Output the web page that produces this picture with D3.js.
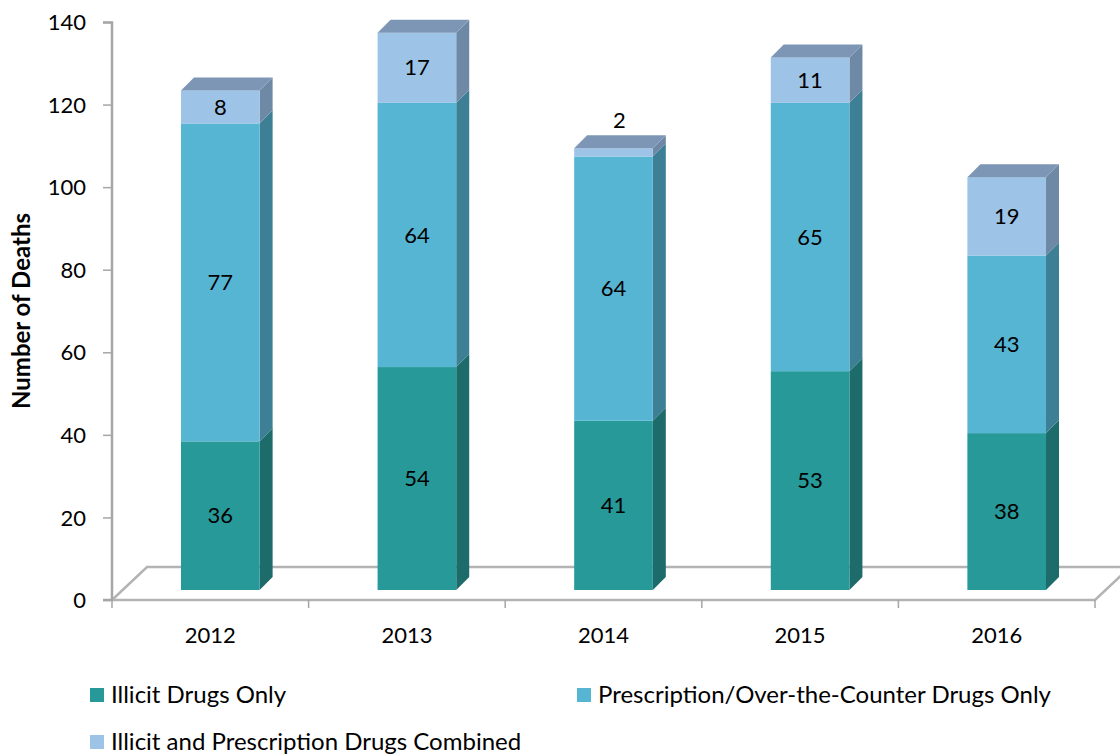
<!DOCTYPE html>
<html>
<head>
<meta charset="utf-8">
<script src="https://cdn.jsdelivr.net/npm/d3@7"></script>
<style>
  body { margin: 0; background: #fff; }
  svg text { font-family: Lato, "Open Sans", sans-serif; fill: #000; }
</style>
</head>
<body>
<div id="chart"></div>
<script>

const years = ['2012', '2013', '2014', '2015', '2016'];
const illicit = [36, 54, 41, 53, 38];
const prescription = [77, 64, 64, 65, 43];
const combined = [8, 17, 2, 11, 19];
const seriesNames = ['Illicit Drugs Only', 'Prescription/Over-the-Counter Drugs Only', 'Illicit and Prescription Drugs Combined'];
const yTicks = [0, 20, 40, 60, 80, 100, 120, 140];

const W = 1120, H = 756;
const depth = 13;

// front, side, top colours for each series
const colors = [
  { front: '#279999', side: '#1d6b6b', top: '#2b8585' },
  { front: '#57b5d4', side: '#3d7f95', top: '#4b9bb6' },
  { front: '#9dc3e6', side: '#6e89a6', top: '#7d96b6' }
];

const svg = d3.select('#chart').append('svg')
  .attr('width', W)
  .attr('height', H);

const x = d3.scaleBand().domain(years).range([112, 1095]);
const y = d3.scaleLinear().domain([0, 140]).range([600, 22]);
// bars sit on the floor a bit in front of the axis plane
const yBar = d3.scaleLinear().domain([0, 140]).range([590, 12]);

// floor
const floor = svg.append('g').attr('fill', 'none').attr('stroke', '#b3b3b3').attr('stroke-width', 2.5);
floor.append('path').attr('d', 'M112,600 L147,567 L1130,567');
floor.append('path').attr('d', 'M112,600 L1095,600 L1130,567');

// y axis
const yAxis = svg.append('g')
  .attr('transform', 'translate(112,0)')
  .call(d3.axisLeft(y).tickValues(yTicks).tickSize(9).tickPadding(17));
yAxis.select('.domain').attr('stroke', '#a6a6a6').attr('stroke-width', 2.5).attr('d', 'M-9,22.5H0V600H-9');
yAxis.selectAll('.tick line').attr('stroke', '#a6a6a6').attr('stroke-width', 1.5);
yAxis.selectAll('.tick text').style('font-size', '22px').attr('dy', '0.35em');

// x ticks under the floor edge
svg.append('g').selectAll('line')
  .data(years.concat(['end']))
  .join('line')
  .attr('x1', (d, i) => 112 + i * x.bandwidth())
  .attr('x2', (d, i) => 112 + i * x.bandwidth())
  .attr('y1', 600).attr('y2', 608)
  .attr('stroke', '#a6a6a6').attr('stroke-width', 1.5);

svg.append('g').selectAll('text')
  .data(years)
  .join('text')
  .attr('x', d => x(d) + x.bandwidth() / 2)
  .attr('y', 635)
  .attr('text-anchor', 'middle')
  .attr('dy', '0.35em')
  .style('font-size', '22px')
  .text(d => d);

// axis title
svg.append('text')
  .attr('transform', 'translate(22,311) rotate(-90)')
  .attr('text-anchor', 'middle')
  .attr('dy', '0.35em')
  .style('font-size', '24px')
  .style('font-weight', 'bold')
  .text('Number of Deaths');

// stacked data
const stackData = years.map((yr, i) => ({ year: yr, s0: illicit[i], s1: prescription[i], s2: combined[i] }));
const stacked = d3.stack().keys(['s0', 's1', 's2'])(stackData);

const barW = x.bandwidth() * 0.4;
const barX = d => x(d.data.year) + x.bandwidth() / 2 - barW / 2 + 10;

const bars = svg.append('g');

years.forEach((yr, i) => {
  const g = bars.append('g');
  stacked.forEach((layer, k) => {
    const d = layer[i];
    const x0 = barX(d), x1 = x0 + barW;
    const yb = yBar(d[0]), yt = yBar(d[1]);
    g.append('path')
      .attr('d', `M${x1},${yb} L${x1 + depth},${yb - depth} L${x1 + depth},${yt - depth} L${x1},${yt} Z`)
      .attr('fill', colors[k].side);
    g.append('rect')
      .attr('x', x0).attr('y', yt)
      .attr('width', barW).attr('height', yb - yt)
      .attr('fill', colors[k].front);
    if (k === stacked.length - 1) {
      g.append('path')
        .attr('d', `M${x0},${yt} L${x0 + depth},${yt - depth} L${x1 + depth},${yt - depth} L${x1},${yt} Z`)
        .attr('fill', colors[k].top);
    }
  });
});

// value labels
stacked.forEach((layer, k) => {
  layer.forEach(d => {
    const x0 = barX(d);
    const yb = yBar(d[0]), yt = yBar(d[1]);
    const small = (yb - yt) < 20;
    svg.append('text')
      .attr('x', x0 + barW / 2 + (small ? 6 : 0))
      .attr('y', small ? yt - depth - 15 : (yb + yt) / 2)
      .attr('text-anchor', 'middle')
      .attr('dy', '0.35em')
      .style('font-size', '22px')
      .text(d[1] - d[0]);
  });
});

// legend
const legendPos = [[90, 695], [577, 695], [90, 742]];
const legend = svg.append('g').selectAll('g')
  .data(seriesNames)
  .join('g')
  .attr('transform', (d, i) => `translate(${legendPos[i][0]},${legendPos[i][1]})`);
legend.append('rect')
  .attr('x', 0).attr('y', -7)
  .attr('width', 14).attr('height', 14)
  .attr('fill', (d, i) => colors[i].front);
legend.append('text')
  .attr('x', 21)
  .attr('dy', '0.35em')
  .style('font-size', '24px')
  .text(d => d);

</script>
</body>
</html>
